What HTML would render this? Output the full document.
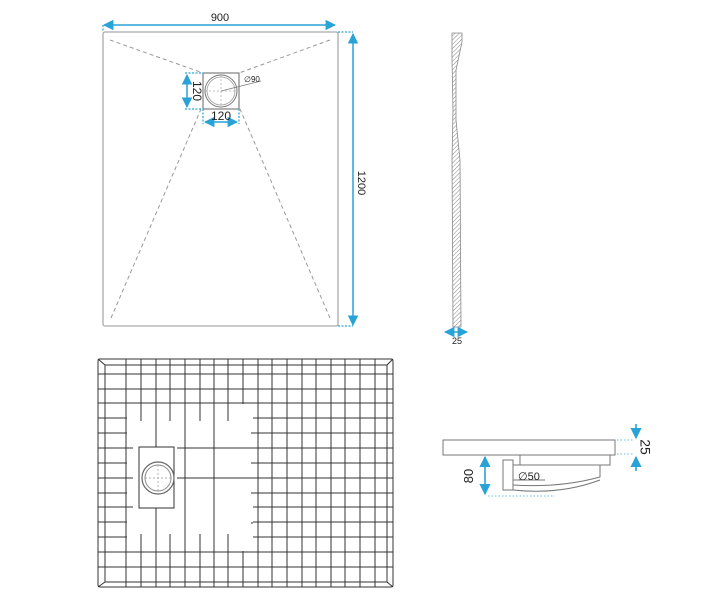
<!DOCTYPE html>
<html><head><meta charset="utf-8"><style>
html,body{margin:0;padding:0;background:#fff;width:702px;height:600px;overflow:hidden}
svg{display:block}
text{font-family:"Liberation Sans",sans-serif;fill:#222}
</style></head><body>
<svg width="702" height="600" viewBox="0 0 702 600" xmlns="http://www.w3.org/2000/svg">
<defs>
<marker id="a" viewBox="0 0 10 10" refX="9" refY="5" markerWidth="7" markerHeight="7" orient="auto-start-reverse"><path d="M0,0L10,5L0,10z" fill="#29a3d6"/></marker>
<pattern id="h" width="3" height="3" patternUnits="userSpaceOnUse" patternTransform="rotate(45)"><line x1="0" y1="0" x2="0" y2="3" stroke="#888" stroke-width="1"/></pattern>
</defs>
<!-- top plan -->
<rect x="103" y="32" width="235" height="294" rx="2" fill="none" stroke="#aaa" stroke-width="1.3"/>
<g stroke="#999" stroke-width="1" stroke-dasharray="4,3" fill="none">
<line x1="110" y1="40" x2="203" y2="73"/><line x1="330" y1="40" x2="239" y2="73"/>
<line x1="111" y1="318" x2="201" y2="109"/><line x1="330" y1="318" x2="240" y2="109"/>
</g>
<rect x="203" y="73" width="36" height="36" fill="#fff" stroke="#666" stroke-width="1"/>
<circle cx="221" cy="91" r="16" fill="none" stroke="#777" stroke-width="1"/>
<circle cx="221" cy="91" r="14" fill="none" stroke="#999" stroke-width="0.8"/>
<g stroke="#aaa" stroke-width="0.7" stroke-dasharray="2,2"><line x1="205" y1="91" x2="237" y2="91"/><line x1="221" y1="75" x2="221" y2="107"/></g>
<line x1="221" y1="91" x2="261" y2="81" stroke="#777" stroke-width="0.7"/>
<text x="244" y="82" font-size="8">∅90</text>
<!-- dims top -->
<g stroke="#29a3d6" stroke-width="1.5" fill="none">
<line x1="104" y1="25" x2="335" y2="25" marker-start="url(#a)" marker-end="url(#a)"/>
<line x1="353" y1="34" x2="353" y2="325" marker-start="url(#a)" marker-end="url(#a)"/>
<line x1="187" y1="75" x2="187" y2="107" marker-start="url(#a)" marker-end="url(#a)"/>
<line x1="205" y1="122" x2="237" y2="122" marker-start="url(#a)" marker-end="url(#a)"/>
</g>
<g stroke="#29a3d6" stroke-width="1.2" stroke-dasharray="2,1.5" fill="none">
<line x1="103" y1="25" x2="103" y2="32"/><line x1="338" y1="32" x2="353" y2="32"/><line x1="338" y1="326" x2="353" y2="326"/>
<line x1="185" y1="73" x2="203" y2="73"/><line x1="185" y1="109" x2="203" y2="109"/>
<line x1="203" y1="109" x2="203" y2="124"/><line x1="239" y1="109" x2="239" y2="124"/>
</g>
<text x="220" y="21" font-size="11" text-anchor="middle">900</text>
<text x="221" y="120" font-size="12" text-anchor="middle">120</text>
<text transform="translate(193,91) rotate(90)" font-size="12" text-anchor="middle">120</text>
<text transform="translate(358,183) rotate(90)" font-size="11" text-anchor="middle">1200</text>
<!-- side view -->
<path d="M452,33 L462,33 L462,42 L456,70 L456,120 L460,160 L461,327 L453,327 L452,160 L453,110 L452,60 Z" fill="url(#h)" stroke="#888" stroke-width="0.8"/>
<line x1="445" y1="332" x2="467" y2="332" stroke="#29a3d6" stroke-width="1.5" marker-start="url(#a)" marker-end="url(#a)"/>
<text x="457" y="344" font-size="9" text-anchor="middle">25</text>
<!-- grid plan -->
<g stroke="#333" stroke-width="1" fill="none">
<rect x="98" y="359" width="295" height="228" rx="2"/>
<rect x="105" y="365" width="282" height="217"/>
<line x1="98" y1="359" x2="105" y2="365"/><line x1="393" y1="359" x2="387" y2="365"/>
<line x1="98" y1="587" x2="105" y2="582"/><line x1="393" y1="587" x2="387" y2="582"/>
<path d="M126,359V587M141,359V587M156,359V587M170,359V587M185,359V587M200,359V587M214,359V587M228,359V587M243,359V587M258,359V587M272,359V587M287,359V587M302,359V587M316,359V587M331,359V587M345,359V587M360,359V587M375,359V587"/>
<path d="M98,374H393M98,389H393M98,403H393M98,418H393M98,433H393M98,448H393M98,463H393M98,478H393M98,493H393M98,507H393M98,522H393M98,537H393M98,552H393M98,567H393"/>
</g>
<rect x="127" y="404" width="126" height="147" fill="#fff"/>
<g stroke="#333" stroke-width="1" fill="none">
<path d="M141,403V421M170,403V421M200,403V421M228,403V421"/>
<path d="M141,534V552M170,534V552M200,534V552M228,534V552"/>
<path d="M156,403V447M156,508V552"/>
<path d="M185,403V552"/>
<path d="M214,403V552"/>
<path d="M177,448H253M177,478H253"/>
<path d="M98,433H126M98,463H126M98,493H126M98,522H126"/>
<path d="M126,448H133M126,478H133M126,507H133"/>
<path d="M251,433H253M251,463H253M251,493H253M251,523H253"/>
<rect x="139" y="447" width="35" height="61" fill="#fff"/>
</g>
<circle cx="158" cy="478" r="16" fill="none" stroke="#666" stroke-width="1.2"/>
<circle cx="158" cy="478" r="13" fill="none" stroke="#888" stroke-width="1"/>
<g stroke="#999" stroke-width="0.7" stroke-dasharray="2,2"><line x1="145" y1="478" x2="171" y2="478"/><line x1="158" y1="465" x2="158" y2="491"/></g>
<!-- section view -->
<g stroke="#777" stroke-width="1" fill="none">
<rect x="443" y="440" width="172" height="15"/>
<path d="M520,455V465H610V455"/>
<rect x="503" y="460" width="10" height="30" fill="#fff"/>
<path d="M513,465H520M513,480H545"/>
<path d="M513,485Q560,488 600,477V465"/>
<path d="M513,490Q560,495 600,480"/>
<path d="M513,460V490"/>
</g>
<text x="518" y="480" font-size="11">∅50</text>
<line x1="485" y1="457" x2="485" y2="494" stroke="#29a3d6" stroke-width="1.6" marker-start="url(#a)" marker-end="url(#a)"/>
<line x1="488" y1="496" x2="555" y2="496" stroke="#8cc9e6" stroke-width="1.2" stroke-dasharray="1.5,2"/>
<text transform="translate(473,476) rotate(-90)" font-size="13" text-anchor="middle">80</text>
<line x1="636" y1="424" x2="636" y2="438" stroke="#29a3d6" stroke-width="1.6" marker-end="url(#a)"/>
<line x1="636" y1="471" x2="636" y2="457" stroke="#29a3d6" stroke-width="1.6" marker-end="url(#a)"/>
<line x1="617" y1="440" x2="634" y2="440" stroke="#8cc9e6" stroke-width="1.2" stroke-dasharray="1.5,2"/>
<line x1="617" y1="454" x2="634" y2="454" stroke="#8cc9e6" stroke-width="1.2" stroke-dasharray="1.5,2"/>
<text transform="translate(644,447) rotate(90)" font-size="14" text-anchor="middle" dominant-baseline="middle">25</text>
</svg>
</body></html>
